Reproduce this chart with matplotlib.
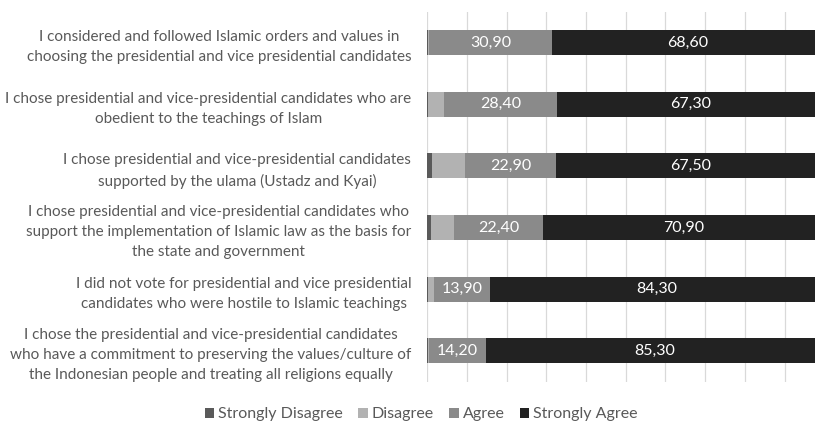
import numpy as np
import matplotlib.pyplot as plt

plt.rcParams['font.family'] = ['Lato', 'DejaVu Sans']

statements = [
    "I considered and followed Islamic orders and values in\nchoosing the presidential and vice presidential candidates",
    "I chose presidential and vice-presidential candidates who are\nobedient to the teachings of Islam",
    "I chose presidential and vice-presidential candidates\nsupported by the ulama (Ustadz and Kyai)",
    "I chose presidential and vice-presidential candidates who\nsupport the implementation of Islamic law as the basis for\nthe state and government",
    "I did not vote for presidential and vice presidential\ncandidates who were hostile to Islamic teachings",
    "I chose the presidential and vice-presidential candidates\nwho have a commitment to preserving the values/culture of\nthe Indonesian people and treating all religions equally",
]

strongly_disagree = [0.2, 0.3, 1.2, 0.9, 0.3, 0.2]
disagree = [0.3, 4.0, 8.4, 5.8, 1.5, 0.3]
agree = [30.9, 28.4, 22.9, 22.4, 13.9, 14.2]
strongly_agree = [68.6, 67.3, 67.5, 70.9, 84.3, 85.3]

series = [
    ("Strongly Disagree", strongly_disagree, "#5a5a5a", False),
    ("Disagree", disagree, "#b2b2b2", False),
    ("Agree", agree, "#8a8a8a", True),
    ("Strongly Agree", strongly_agree, "#222222", True),
]

fig = plt.figure(figsize=(8.15, 4.23), dpi=100)
ax = fig.add_axes([0.5243, 0.0976, 0.4871, 0.8747])

y = np.arange(len(statements))
left = np.zeros(len(statements))
for name, vals, color, labelled in series:
    vals = np.array(vals)
    bars = ax.barh(y, vals, left=left, height=0.405, color=color, label=name, zorder=3)
    if labelled:
        ax.bar_label(bars, labels=[f"{v:.2f}".replace('.', ',') for v in vals],
                     label_type='center', color='white', fontsize=11.5)
    left += vals

ax.set_xlim(0, 100)
ax.set_ylim(len(statements) - 0.5, -0.5)
ax.set_xticks(np.arange(0, 101, 10))
ax.set_xticklabels([])
ax.grid(axis='x', color='#d9d9d9', linewidth=0.9, zorder=0)
ax.set_yticks(y)
ax.set_yticklabels(statements, fontsize=11, color='#595959',
                   multialignment='center', linespacing=1.55)
ax.tick_params(length=0)
ax.tick_params(axis='y', pad=11.5)
for s in ax.spines.values():
    s.set_visible(False)

fig.legend(loc='lower center', bbox_to_anchor=(0.517, -0.03), ncol=4, frameon=False,
           handlelength=0.6, handleheight=0.6, handletextpad=0.25, columnspacing=0.95,
           fontsize=11.5, labelcolor='#595959')

fig.savefig("out.png", dpi=100)
